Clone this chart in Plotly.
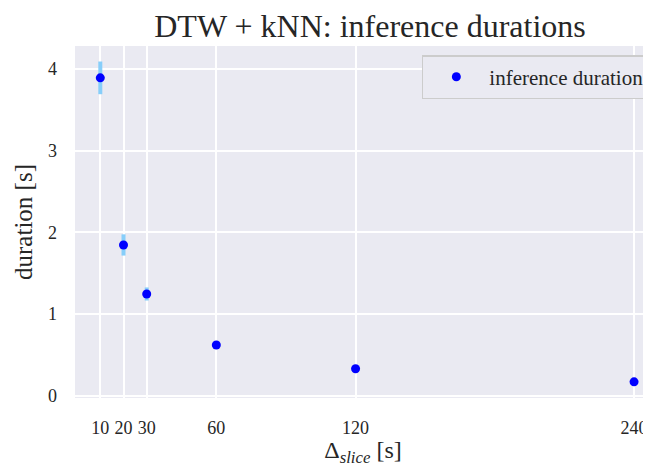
import plotly.graph_objects as go

slice_s = [10, 20, 30, 60, 120, 240]
duration = [3.89, 1.845, 1.245, 0.62, 0.33, 0.17]
duration_err = [0.20, 0.13, 0.08, 0.03, 0.02, 0.015]
x_ticks = [10, 20, 30, 60, 120, 240]
y_ticks = [0, 1, 2, 3, 4]

FONT = "Liberation Serif"
TXT = "#262626"

# the page body adds an 8px offset, so the figure is 8px smaller on each side
W, H = 643, 459

fig = go.Figure()
fig.add_trace(go.Scatter(
    x=slice_s, y=duration, mode="markers", name="inference duration",
    marker=dict(color="#0000FF", size=9),
    error_y=dict(type="data", array=duration_err, color="#87CEFA", thickness=4, width=0),
))

fig.update_layout(
    width=W, height=H,
    margin=dict(l=67, r=0, t=38, b=69, autoexpand=False),
    paper_bgcolor="white", plot_bgcolor="#EAEAF2",
    font=dict(family=FONT, color=TXT, size=18),
    title=dict(text="DTW + kNN: inference durations", x=362 / W, xanchor="center",
               xref="container", y=1 - 6.5 / H, yref="container", yanchor="top",
               font=dict(size=32, family=FONT, color=TXT)),
    showlegend=True,
    legend=dict(x=0.998, y=0.974, xanchor="right", yanchor="top",
                bgcolor="#EAEAF2", bordercolor="#CCCCCC", borderwidth=1.5,
                font=dict(size=21, family=FONT, color=TXT), itemwidth=56),
)
fig.update_xaxes(range=[-0.9, 247.3], tickvals=x_ticks, ticktext=[str(v) for v in x_ticks],
                 showgrid=True, gridcolor="white", gridwidth=1.6, zeroline=False,
                 showline=False, ticks="", ticklabelstandoff=17, automargin=False,
                 tickfont=dict(size=18, family=FONT, color=TXT),
                 title=dict(text="Δ<sub><i>slice</i></sub> [s]", font=dict(size=24, family=FONT, color=TXT), standoff=13))
fig.update_yaxes(range=[-0.028, 4.28], tickvals=y_ticks, ticktext=[str(v) for v in y_ticks],
                 showgrid=True, gridcolor="white", gridwidth=1.6, zeroline=False,
                 showline=False, ticks="", ticklabelstandoff=17, automargin=False,
                 tickfont=dict(size=18, family=FONT, color=TXT),
                 title=dict(text="duration [s]", font=dict(size=25, family=FONT, color=TXT), standoff=8))

fig.write_html("out.html")
